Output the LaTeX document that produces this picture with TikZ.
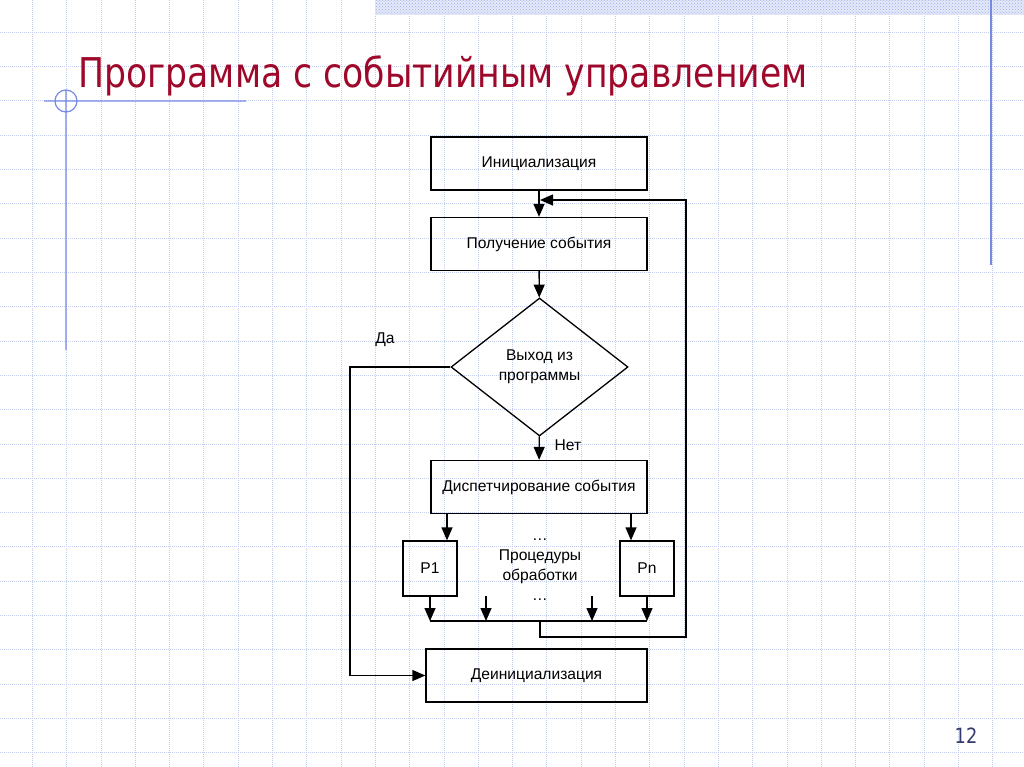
\documentclass[tikz,border=0pt]{standalone}
\usepackage{fontspec}
\setmainfont{Liberation Sans}
\newfontfamily\titlefont[FakeStretch=0.845]{DejaVu Sans}
\usetikzlibrary{arrows.meta,positioning,shapes.geometric,patterns}
\definecolor{gridcol}{RGB}{196,206,238}
\definecolor{decoblue}{RGB}{118,138,228}
\definecolor{titlered}{RGB}{158,8,42}
\definecolor{numblue}{RGB}{52,58,110}
\newcommand{\flowfont}{\fontsize{15.6}{20}\selectfont}

\begin{document}
\begin{tikzpicture}[x=1pt,y=-1pt,
    blk/.style={draw, line width=1.3pt, minimum width=216pt, minimum height=53pt,
      inner sep=2pt, font=\flowfont},
    proc/.style={blk, minimum width=54pt, minimum height=55pt},
    arr/.style={line width=1.3pt, -{Triangle[length=13pt,width=11pt]}},
    wire/.style={line width=1.3pt},
    gridln/.style={gridcol, line width=0.8pt, dash pattern=on 1pt off 1pt}]
  \useasboundingbox (0,0) rectangle (1024,767);
  \fill[white] (0,0) rectangle (1024,767);
  \foreach \k in {1,...,30}
    \draw[gridln] ({-2+34.3*\k},0) -- ({-2+34.3*\k},767);
  \foreach \k in {1,...,22}
    \draw[gridln] (0,{-2+34.3*\k}) -- (1024,{-2+34.3*\k});

  \fill[gridcol!45] (375,0) rectangle (1024,15);
  \fill[pattern=crosshatch dots, pattern color=decoblue!70] (375,0) rectangle (1024,15);
  \draw[decoblue, line width=1.2pt] (991,0) -- (991,265);
  \draw[decoblue, line width=1.2pt] (44,101) -- (246,101) (66,90) -- (66,350)
    (66,101) circle[radius=11pt];

  \node[anchor=base west, inner sep=0, text=titlered,
    font=\titlefont\fontsize{41}{41}\selectfont] (title) at (78,88)
    {Программа с событийным управлением};
  \node[text=numblue, font=\titlefont\fontsize{21}{21}\selectfont] (pagenum)
    at (966,736) {12};

  \node[blk] (init) at (539,163.5) {Инициализация};
  \node[blk] (recv) at (539,244) {Получение события};
  \node[draw, diamond, line width=1.3pt, minimum width=177pt, minimum height=138pt,
    inner sep=0, align=center, font=\flowfont] (exit) at (539.5,367)
    {Выход из\\программы};
  \node[blk] (disp) at (539,487) {Диспетчирование события};
  \node[proc] (p1) at (430,568.5) {P1};
  \node[proc] (pn) at (647,568.5) {Pn};
  \node[align=center, font=\flowfont] (procs) at (540,570)
    {…\\Процедуры\\обработки\\…};
  \node[blk, minimum width=221pt] (deinit) at (536.5,675.5) {Деинициализация};
  \node[font=\flowfont] (yes) at (385,340) {Да};
  \node[font=\flowfont] (no) at (568,445) {Нет};

  \coordinate (entry) at (540,200);
  \coordinate (bus) at (540,621);
  \coordinate (loopr) at (686,637);
  \coordinate (yesturn) at (350,675.5);
  \coordinate (f1) at (486,596);
  \coordinate (f2) at (592,596);

  \draw[arr] (init) -- (recv);
  \draw[arr] (recv) -- (exit);
  \draw[arr] (exit) -- (disp);
  \draw[arr] (exit.west) -| (yesturn) -- (deinit.west);
  \draw[arr] ([xshift=17pt]p1.north |- disp.south) -- ([xshift=17pt]p1.north);
  \draw[arr] ([xshift=-16pt]pn.north |- disp.south) -- ([xshift=-16pt]pn.north);
  \draw[arr] (p1) -- (p1 |- bus);
  \draw[arr] (pn) -- (pn |- bus);
  \draw[arr] (f1) -- (f1 |- bus);
  \draw[arr] (f2) -- (f2 |- bus);
  \draw[wire] (p1 |- bus) -- (pn |- bus);
  \draw[arr] (bus) |- (loopr) |- (entry);
\end{tikzpicture}
\end{document}
